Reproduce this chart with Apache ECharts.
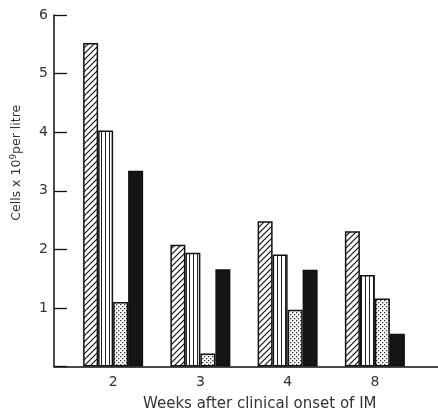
<!DOCTYPE html>
<html>
<head>
<meta charset="utf-8">
<script src="https://cdn.jsdelivr.net/npm/echarts@6/dist/echarts.min.js"></script>
<style>
  html, body { margin: 0; padding: 0; background: #fff; }
  #chart { width: 438px; height: 413px; }
</style>
</head>
<body>
<div id="chart"></div>
<script>
// weeks after onset
const weeks = ['2', '3', '4', '8'];
// four cell counts (x10^9 per litre)
const hatched = [5.52, 2.08, 2.48, 2.31];
const striped = [4.03, 1.94, 1.91, 1.56];
const dotted = [1.1, 0.22, 0.97, 1.16];
const solid = [3.34, 1.66, 1.65, 0.56];
const yTicks = [0, 1, 2, 3, 4, 5, 6];

// fill patterns drawn on small canvases
function pattern(kind) {
  const c = document.createElement('canvas');
  const ctx = c.getContext('2d');
  if (kind === 'hatch') {
    c.width = 6; c.height = 6;
    ctx.fillStyle = '#fff'; ctx.fillRect(0, 0, 6, 6);
    ctx.strokeStyle = '#111'; ctx.lineWidth = 1.2;
    ctx.beginPath();
    ctx.moveTo(-1, 7); ctx.lineTo(7, -1);
    ctx.moveTo(-1, 1); ctx.lineTo(1, -1);
    ctx.moveTo(5, 7); ctx.lineTo(7, 5);
    ctx.stroke();
  } else if (kind === 'stripe') {
    c.width = 4; c.height = 4;
    ctx.fillStyle = '#fff'; ctx.fillRect(0, 0, 4, 4);
    ctx.fillStyle = '#222'; ctx.fillRect(1, 0, 1, 4);
  } else {
    c.width = 4; c.height = 4;
    ctx.fillStyle = '#fff'; ctx.fillRect(0, 0, 4, 4);
    ctx.fillStyle = '#333';
    ctx.fillRect(0, 0, 1.3, 1.3);
    ctx.fillRect(2, 2, 1.3, 1.3);
  }
  return { image: c, repeat: 'repeat' };
}

const chart = echarts.init(document.getElementById('chart'));
const font = 'DejaVu Sans';
const barStyle = (fill) => ({ color: fill, borderColor: '#111', borderWidth: 1.5 });

chart.setOption({
  animation: false,
  title: {
    text: 'Weeks after clinical onset of IM',
    left: 138, top: 392,
    textStyle: { fontFamily: font, fontSize: 15, fontWeight: 'normal', color: '#333' }
  },
  grid: [
    { left: 54, right: 0, top: 15, bottom: 46.5 },
    { left: 69.5, width: 349, top: 15, bottom: 46.5 }
  ],
  xAxis: [
    {
      gridIndex: 0, type: 'category', data: weeks,
      axisLine: { lineStyle: { color: '#111', width: 1.5 } },
      axisTick: { show: false }, axisLabel: { show: false }
    },
    {
      gridIndex: 1, type: 'category', data: weeks,
      axisLine: { show: false }, axisTick: { show: false },
      axisLabel: { margin: 9, fontFamily: font, fontSize: 14, color: '#333' }
    }
  ],
  yAxis: [
    {
      gridIndex: 0, type: 'value', min: yTicks[0], max: yTicks[yTicks.length - 1], interval: 1,
      name: '{a|Cells x 10}{s|9}{a|per litre}',
      nameLocation: 'middle', nameGap: 30,
      nameTextStyle: {
        padding: [0, 0, 0, 56],
        rich: {
          a: { fontFamily: font, fontSize: 12.5, color: '#333' },
          s: { fontFamily: font, fontSize: 9, color: '#333', verticalAlign: 'top', padding: [0, 0, 6, 0] }
        }
      },
      axisLine: { show: true, lineStyle: { color: '#111', width: 1.5 } },
      axisTick: { show: true, inside: true, length: 13, lineStyle: { color: '#111', width: 1.3 } },
      axisLabel: {
        margin: 6, fontFamily: font, fontSize: 14, color: '#333',
        formatter: v => (v === 0 ? '' : v)
      },
      splitLine: { show: false }
    },
    { gridIndex: 1, type: 'value', min: 0, max: 6, show: false }
  ],
  series: [
    { type: 'bar', xAxisIndex: 1, yAxisIndex: 1, data: hatched, barWidth: 15, barGap: '0%', itemStyle: barStyle(pattern('hatch')) },
    { type: 'bar', xAxisIndex: 1, yAxisIndex: 1, data: striped, barWidth: 15, barGap: '0%', itemStyle: barStyle(pattern('stripe')) },
    { type: 'bar', xAxisIndex: 1, yAxisIndex: 1, data: dotted, barWidth: 15, barGap: '0%', itemStyle: barStyle(pattern('dot')) },
    { type: 'bar', xAxisIndex: 1, yAxisIndex: 1, data: solid, barWidth: 15, barGap: '0%', itemStyle: barStyle('#151515') }
  ]
});
</script>
</body>
</html>
